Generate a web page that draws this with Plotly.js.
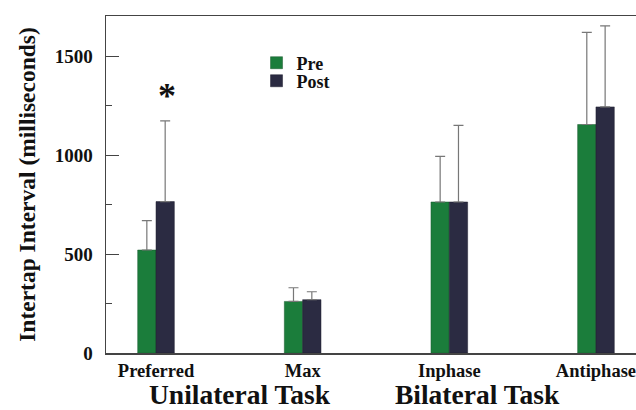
<!DOCTYPE html>
<html><head><meta charset="utf-8">
<script src="https://cdn.plot.ly/plotly-3.0.1.min.js"></script>
<style>html,body{margin:0;padding:0;background:#fff}</style>
</head><body>
<div id="chart" style="width:636px;height:410px"></div>
<script>
var categories = ["Preferred", "Max", "Inphase", "Antiphase"];
var preValues = [521, 261, 764, 1156];
var preErrors = [149, 69, 231, 466];
var postValues = [766, 270, 764, 1245];
var postErrors = [408, 40, 388, 410];
var groupLabels = ["Unilateral Task", "Bilateral Task"];

var font = "Liberation Serif, Times New Roman, serif";
var legendFont = {family: font, size: 18, color: "#111", weight: "bold"};
var traces = [
  {type: "bar", name: "Pre", x: categories, y: preValues, legend: "legend",
   marker: {color: "#1b7d3b", line: {color: "#1b5a2e", width: 0.5}},
   error_y: {type: "data", symmetric: false, array: preErrors, arrayminus: preValues.map(function(){return 0;}), color: "#777", thickness: 1.2, width: 5}},
  {type: "bar", name: "Post", x: categories, y: postValues, legend: "legend2",
   marker: {color: "#2b2b42", line: {color: "#1e1e2e", width: 0.5}},
   error_y: {type: "data", symmetric: false, array: postErrors, arrayminus: postValues.map(function(){return 0;}), color: "#777", thickness: 1.2, width: 5}}
];
var layout = {
  width: 636, height: 410,
  margin: {l: 106, r: 0, t: 16, b: 57},
  paper_bgcolor: "#fff", plot_bgcolor: "#fff",
  barmode: "group", bargap: 0.75, bargroupgap: 0,
  showlegend: true,
  legend: {x: 0.284, y: 0.8605, xanchor: "left", yanchor: "middle", bgcolor: "rgba(0,0,0,0)",
    font: legendFont, itemwidth: 30},
  legend2: {x: 0.284, y: 0.807, xanchor: "left", yanchor: "middle", bgcolor: "rgba(0,0,0,0)",
    font: legendFont, itemwidth: 30},
  xaxis: {type: "category", range: [-0.341, 3.273], showline: true, linecolor: "#444", linewidth: 1.5,
    mirror: true, ticks: "", showgrid: false, zeroline: false,
    tickfont: {family: font, size: 18.5, color: "#111", weight: "bold"}},
  yaxis: {range: [0, 1705], showline: true, linecolor: "#444", linewidth: 1.5, mirror: false,
    tickvals: [0, 500, 1000, 1500], ticks: "inside", ticklen: 13, tickcolor: "#444", tickwidth: 1,
    minor: {tickvals: [250, 750, 1250], ticks: "inside", ticklen: 6, tickcolor: "#444", tickwidth: 1},
    showgrid: false, zeroline: false, ticklabelstandoff: 8,
    tickfont: {family: font, size: 19, color: "#111", weight: "bold"},
    title: {text: "Intertap Interval (milliseconds)", standoff: 12,
      font: {family: font, size: 23.5, color: "#111", weight: "bold"}}},
  annotations: [
    {xref: "x", yref: "y", x: categories[0], xshift: 11, y: 1300, text: "*", showarrow: false,
     font: {family: font, size: 36, color: "#111", weight: "bold"}},
    {xref: "paper", yref: "paper", x: (240 - 106) / 530, y: -0.1231, xanchor: "center", yanchor: "middle", text: groupLabels[0], showarrow: false,
     font: {family: font, size: 27.5, color: "#111", weight: "bold"}},
    {xref: "paper", yref: "paper", x: (477 - 106) / 530, y: -0.1231, xanchor: "center", yanchor: "middle", text: groupLabels[1], showarrow: false,
     font: {family: font, size: 27.5, color: "#111", weight: "bold"}}
  ]
};
Plotly.newPlot("chart", traces, layout, {displayModeBar: false, staticPlot: true});
</script>
</body></html>
